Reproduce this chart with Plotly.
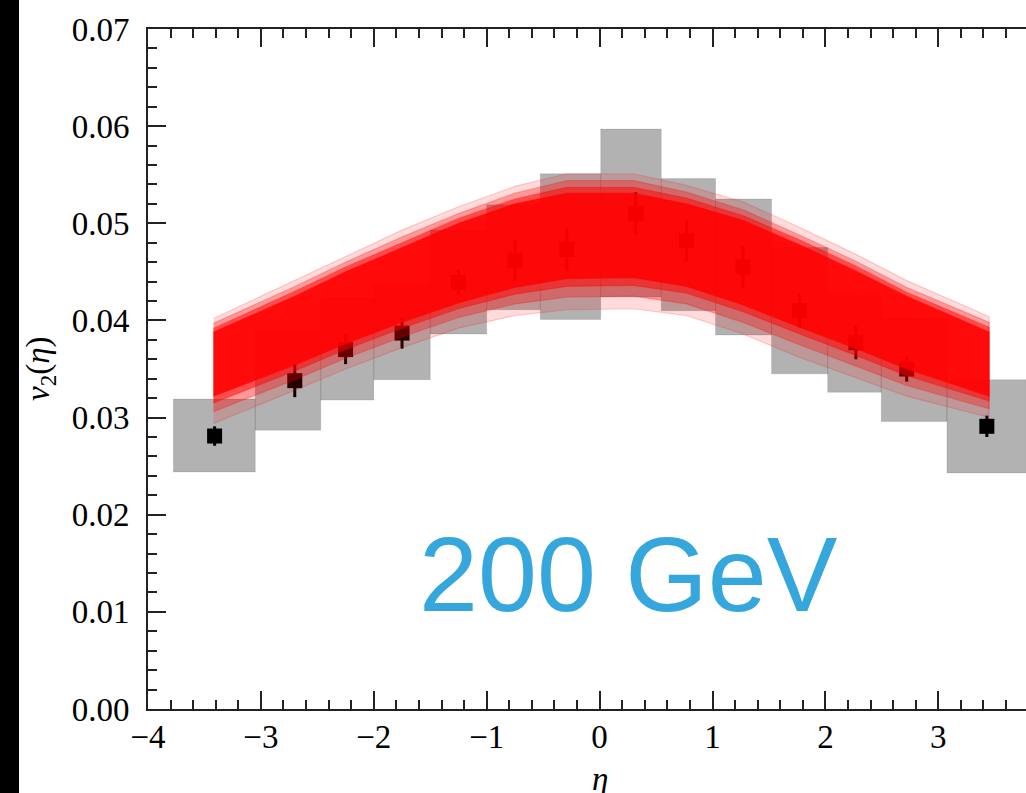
import plotly.graph_objects as go

# ---------------- data ----------------
eta = [-3.41, -2.70, -2.25, -1.75, -1.25, -0.75, -0.29, 0.32, 0.77, 1.27, 1.77, 2.27, 2.72, 3.43]
v2 = [0.0281, 0.0338, 0.0370, 0.0387, 0.0439, 0.0462, 0.0473, 0.0510, 0.0482, 0.0455, 0.0410, 0.0377, 0.0350, 0.0291]
stat_err = [0.0010, 0.0017, 0.0015, 0.0016, 0.0013, 0.0021, 0.0022, 0.0022, 0.0021, 0.0021, 0.0017, 0.0017, 0.0013, 0.0011]

# systematic boxes
sys_lo = [0.0244, 0.0287, 0.0318, 0.0339, 0.0386, 0.0411, 0.0401, 0.0424, 0.0410, 0.0385, 0.0345, 0.0326, 0.0296, 0.0243]
sys_hi = [0.0319, 0.0390, 0.0423, 0.0437, 0.0493, 0.0519, 0.0551, 0.0597, 0.0546, 0.0525, 0.0475, 0.0428, 0.0402, 0.0339]
box_eta_lo = [-3.775, -3.05, -2.47, -2.00, -1.50, -1.00, -0.525, 0.01, 0.546, 1.027, 1.523, 2.02, 2.495, 3.077]
box_eta_hi = [-3.05, -2.47, -2.00, -1.50, -1.00, -0.525, 0.01, 0.546, 1.027, 1.523, 2.02, 2.495, 3.077, 3.78]

# model curves (band of many curves): envelopes
model_eta = [-3.42, -2.70, -2.25, -1.75, -1.25, -0.75, -0.29, 0.30, 0.77, 1.27, 1.77, 2.27, 2.72, 3.45]
env_hi = [0.0402, 0.0441, 0.0466, 0.0493, 0.0517, 0.0538, 0.0551, 0.0551, 0.0539, 0.0522, 0.0496, 0.0468, 0.0441, 0.0404]
env_lo = [0.0294, 0.0328, 0.0350, 0.0372, 0.0392, 0.0405, 0.0411, 0.0412, 0.0405, 0.0386, 0.0362, 0.0341, 0.0322, 0.0300]
mid_hi = [0.0397, 0.0435, 0.0460, 0.0486, 0.0510, 0.0531, 0.0544, 0.0544, 0.0532, 0.0514, 0.0488, 0.0461, 0.0434, 0.0398]
mid_lo = [0.0306, 0.0339, 0.0361, 0.0383, 0.0403, 0.0417, 0.0424, 0.0425, 0.0417, 0.0398, 0.0375, 0.0353, 0.0333, 0.0309]
inner_hi = [0.0392, 0.0430, 0.0455, 0.0480, 0.0505, 0.0525, 0.0537, 0.0537, 0.0526, 0.0508, 0.0483, 0.0456, 0.0429, 0.0393]
inner_lo = [0.0315, 0.0348, 0.0370, 0.0392, 0.0412, 0.0427, 0.0435, 0.0436, 0.0428, 0.0409, 0.0386, 0.0364, 0.0343, 0.0317]
core_hi = [0.0388, 0.0425, 0.0450, 0.0475, 0.0500, 0.0520, 0.0531, 0.0531, 0.0520, 0.0503, 0.0478, 0.0451, 0.0425, 0.0388]
core_lo = [0.0322, 0.0354, 0.0376, 0.0398, 0.0418, 0.0434, 0.0443, 0.0444, 0.0435, 0.0416, 0.0393, 0.0371, 0.0350, 0.0322]

x_ticks = [-4, -3, -2, -1, 0, 1, 2, 3]
y_ticks = [0.00, 0.01, 0.02, 0.03, 0.04, 0.05, 0.06, 0.07]
label_text = "200 GeV"

# ---------------- figure ----------------
W, H = 1026, 793
ML, MR, MT, MB = 148, 0, 29, 84
PW, PH = W - ML - MR, H - MT - MB
SERIF = "Liberation Serif"

fig = go.Figure()

# systematic boxes
for lo_x, hi_x, lo_y, hi_y in zip(box_eta_lo, box_eta_hi, sys_lo, sys_hi):
    fig.add_trace(go.Scatter(
        x=[lo_x, hi_x, hi_x, lo_x, lo_x], y=[lo_y, lo_y, hi_y, hi_y, lo_y],
        mode="lines", fill="toself", fillcolor="rgba(0,0,0,0.30)",
        line=dict(width=1, color="rgba(0,0,0,0.10)"),
        hoverinfo="skip", showlegend=False))

# data points with statistical errors
fig.add_trace(go.Scatter(
    x=eta, y=v2, mode="markers",
    marker=dict(symbol="square", size=15, color="black"),
    error_y=dict(type="data", array=stat_err, thickness=3, width=0, color="black"),
    showlegend=False))

# model band (layers of increasing density)
def band(hi, lo, color, edge):
    fig.add_trace(go.Scatter(
        x=model_eta + model_eta[::-1], y=hi + lo[::-1],
        mode="lines", fill="toself", fillcolor=color,
        line=dict(width=1.2, color=edge), hoverinfo="skip", showlegend=False))

band(env_hi, env_lo, "rgba(255,0,0,0.14)", "rgba(255,0,0,0.18)")
band(mid_hi, mid_lo, "rgba(255,0,0,0.30)", "rgba(255,0,0,0.25)")
band(inner_hi, inner_lo, "rgba(255,0,0,0.50)", "rgba(255,0,0,0.30)")
band(core_hi, core_lo, "rgba(255,0,0,0.85)", "rgba(255,0,0,0.40)")

axis_common = dict(
    showgrid=False, zeroline=False, showline=True, linewidth=2, linecolor="#222",
    ticks="inside", ticklen=18, tickwidth=2, tickcolor="#222",
    tickfont=dict(family=SERIF, size=33, color="black"),
)

fig.update_xaxes(
    range=[-4, -4 + PW / 112.9], tickvals=x_ticks, mirror="ticks",
    minor=dict(ticks="inside", ticklen=9, tickwidth=1.5, tickcolor="#222", dtick=0.2, tick0=0),
    ticklabelstandoff=-3, **axis_common)
fig.update_yaxes(
    range=[0, 0.07], tickvals=y_ticks, tickformat=".2f", mirror=False,
    minor=dict(ticks="inside", ticklen=9, tickwidth=1.5, tickcolor="#222", dtick=0.002, tick0=0),
    ticklabelstandoff=10, **axis_common)

fig.update_layout(
    width=W, height=H, margin=dict(l=ML, r=MR, t=MT, b=MB),
    plot_bgcolor="white", paper_bgcolor="white",
    showlegend=False,
    shapes=[dict(type="rect", xref="paper", yref="paper",
                 x0=-ML / PW, x1=(19 - ML) / PW, y0=-MB / PH - 0.05, y1=1 + MT / PH + 0.05,
                 fillcolor="black", line=dict(width=0), layer="above")],
    annotations=[
        dict(text=label_text, x=0.255, y=0.01385, xref="x", yref="y",
             xanchor="center", yanchor="middle", showarrow=False,
             font=dict(family="Liberation Sans", size=106, color="#36A7DC")),
        dict(text="<i>v</i><sub>2</sub>(<i>η</i>)", x=(40 - ML) / PW, y=0.5, xref="paper", yref="paper",
             xanchor="center", yanchor="middle", textangle=-90, showarrow=False,
             font=dict(family=SERIF, size=33, color="black")),
        dict(text="<i>η</i>", x=0, y=(709 - 759) / PH, xref="x", yref="paper",
             xanchor="center", yanchor="top", showarrow=False,
             font=dict(family=SERIF, size=33, color="black")),
    ],
)

fig.write_html("out.html")
